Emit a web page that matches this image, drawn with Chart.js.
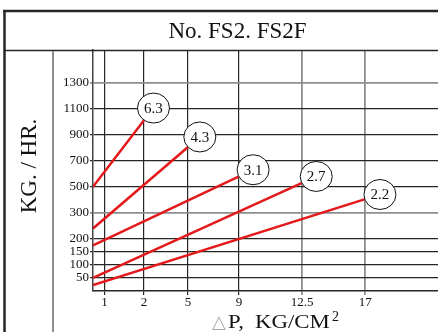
<!DOCTYPE html>
<html>
<head>
<meta charset="utf-8">
<script src="https://cdn.jsdelivr.net/npm/chart.js@4.4.1/dist/chart.umd.min.js"></script>
<style>
  body { margin: 0; background: #fff; }
  canvas { display: block; }
</style>
</head>
<body>
<canvas id="flowChart" width="438" height="332"></canvas>
<script>
// orifice sizes written in the circles
var orifices = ["6.3", "4.3", "3.1", "2.7", "2.2"];
// pressure drop at each end of a line (kg/cm2)
var dpStart = [0, 0, 0, 0, 0];
var dpEnd = [2, 5, 9, 12.5, 17];
// flow at each end of a line (kg/hr)
var flowStart = [500, 240, 175, 50, 23];
var flowEnd = [1010, 805, 580, 530, 405];

var xTicks = [1, 2, 5, 9, 12.5, 17];
var yTicks = [50, 100, 150, 200, 300, 500, 700, 900, 1100, 1300];

// the paper grid is not even, so each axis maps value -> grid step
var axisSteps = {
  x: { at: [0, 1, 2, 5, 9, 12.5, 17], step: [0, 11.5, 51, 95, 146, 209, 272] },
  y: { at: [0, 50, 100, 150, 200, 300, 500, 700, 900, 1100, 1300], step: [0, 1, 2, 3, 4, 6, 8, 10, 12, 14, 16] }
};

class PiecewiseScale extends Chart.LinearScale {
  toStep(v) {
    var t = axisSteps[this.axis], at = t.at, st = t.step, n = at.length;
    var i = 1;
    while (i < n - 1 && v > at[i]) i++;
    return st[i - 1] + (v - at[i - 1]) * (st[i] - st[i - 1]) / (at[i] - at[i - 1]);
  }
  fromStep(s) {
    var t = axisSteps[this.axis], at = t.at, st = t.step, n = at.length;
    var i = 1;
    while (i < n - 1 && s > st[i]) i++;
    return at[i - 1] + (s - st[i - 1]) * (at[i] - at[i - 1]) / (st[i] - st[i - 1]);
  }
  getPixelForValue(value) {
    if (value === null || value === undefined || isNaN(value)) return NaN;
    var lo = this.toStep(this.min), hi = this.toStep(this.max);
    return this.getPixelForDecimal((this.toStep(value) - lo) / (hi - lo));
  }
  getValueForPixel(pixel) {
    var lo = this.toStep(this.min), hi = this.toStep(this.max);
    return this.fromStep(lo + this.getDecimalForPixel(pixel) * (hi - lo));
  }
}
PiecewiseScale.id = 'piecewise';
PiecewiseScale.defaults = Chart.LinearScale.defaults;
Chart.register(PiecewiseScale);

var serif = '"Liberation Serif", "Times New Roman", serif';
var dark = '#262626';
var gray = '#8e8e8e';

var datasets = orifices.map(function (name, i) {
  return {
    label: name,
    data: [{ x: dpStart[i], y: flowStart[i] }, { x: dpEnd[i], y: flowEnd[i] }],
    borderColor: '#e3191c',
    borderWidth: 2.5,
    pointRadius: 0,
    fill: false
  };
});

var frame = {
  id: 'frame',
  beforeDraw: function (chart) {
    var ctx = chart.ctx;
    ctx.save();
    ctx.fillStyle = '#fff';
    ctx.fillRect(0, 0, chart.width, chart.height);
    ctx.restore();
  },
  afterDraw: function (chart) {
    var ctx = chart.ctx;
    ctx.save();
    // table lines
    ctx.strokeStyle = dark;
    ctx.lineWidth = 2.5;
    ctx.beginPath();
    ctx.moveTo(3, 11); ctx.lineTo(438, 11);
    ctx.moveTo(4.5, 10); ctx.lineTo(4.5, 332);
    ctx.stroke();
    ctx.lineWidth = 1.5;
    ctx.beginPath();
    ctx.moveTo(4, 50.5); ctx.lineTo(438, 50.5);
    ctx.stroke();
    ctx.strokeStyle = gray;
    ctx.lineWidth = 2;
    ctx.beginPath();
    ctx.moveTo(53, 51); ctx.lineTo(53, 332);
    ctx.stroke();

    // title
    ctx.fillStyle = '#111';
    ctx.font = '23px ' + serif;
    ctx.textAlign = 'center';
    ctx.textBaseline = 'alphabetic';
    ctx.fillText('No. FS2. FS2F', 237.5, 37.5);

    // y title
    ctx.save();
    ctx.translate(36, 166);
    ctx.rotate(-Math.PI / 2);
    ctx.fillText('KG. / HR.', 0, 0);
    ctx.restore();

    // x title
    ctx.textAlign = 'left';
    ctx.fillStyle = '#a8a8a8';
    ctx.font = '18px "DejaVu Sans"';
    ctx.fillText('\u25B3', 212, 327.5);
    ctx.fillStyle = '#111';
    ctx.font = '19px ' + serif;
    ctx.save();
    ctx.translate(228, 327.5);
    ctx.scale(1.2, 1);
    ctx.fillText('P,', 0, 0);
    ctx.restore();
    ctx.save();
    ctx.translate(255, 327.5);
    ctx.scale(1.2, 1);
    ctx.fillText('KG/CM', 0, 0);
    ctx.restore();
    ctx.font = '14px ' + serif;
    ctx.fillText('2', 332, 321);
    ctx.restore();
  }
};

var bubbles = {
  id: 'bubbles',
  afterDatasetsDraw: function (chart) {
    var ctx = chart.ctx;
    chart.data.datasets.forEach(function (ds, i) {
      var pts = chart.getDatasetMeta(i).data;
      var a = pts[pts.length - 2], b = pts[pts.length - 1];
      var dx = b.x - a.x, dy = b.y - a.y, len = Math.hypot(dx, dy);
      var cx = b.x + dx / len * 15.5, cy = b.y + dy / len * 15.5;
      ctx.save();
      ctx.beginPath();
      ctx.ellipse(cx, cy, 16, 15, 0, 0, 2 * Math.PI);
      ctx.fillStyle = '#fff';
      ctx.fill();
      ctx.lineWidth = 1;
      ctx.strokeStyle = '#111';
      ctx.stroke();
      ctx.fillStyle = '#111';
      ctx.font = '15px ' + serif;
      ctx.textAlign = 'center';
      ctx.textBaseline = 'middle';
      ctx.fillText(ds.label, cx, cy + 1);
      ctx.restore();
    });
  }
};

var tickFont = { family: serif, size: 13 };

new Chart(document.getElementById('flowChart').getContext('2d'), {
  type: 'line',
  data: { datasets: datasets },
  options: {
    responsive: false,
    animation: false,
    devicePixelRatio: 1,
    layout: { padding: { top: 50, left: 0, right: 0, bottom: 0 } },
    plugins: { legend: { display: false }, tooltip: { enabled: false }, title: { display: false } },
    scales: {
      x: {
        type: 'piecewise',
        min: 0,
        max: 22.2,
        bounds: 'data',
        afterBuildTicks: function (s) { s.ticks = xTicks.map(function (v) { return { value: v }; }); },
        afterFit: function (s) { s.height = 41; },
        grid: {
          color: function (c) { return c.tick && c.tick.value >= 12.5 ? gray : dark; },
          lineWidth: function (c) { return c.tick && c.tick.value >= 12.5 ? 1.8 : 1.2; },
          tickLength: 4
        },
        border: { display: true, color: dark, width: 1.5 },
        ticks: {
          autoSkip: false,
          maxRotation: 0,
          padding: 0,
          color: '#111',
          font: tickFont,
          callback: function (v) { return String(v); }
        }
      },
      y: {
        type: 'piecewise',
        min: 0,
        max: 1550,
        bounds: 'data',
        afterBuildTicks: function (s) { s.ticks = yTicks.map(function (v) { return { value: v }; }); },
        afterFit: function (s) { s.width = 93; },
        grid: {
          color: function (c) { return c.tick && (c.tick.value === 300 || c.tick.value === 1300) ? gray : dark; },
          lineWidth: function (c) { return c.tick && (c.tick.value === 300 || c.tick.value === 1300) ? 1.8 : 1.2; },
          tickLength: 3
        },
        border: { display: true, color: '#444', width: 1.5 },
        ticks: {
          autoSkip: false,
          padding: 1,
          color: '#111',
          font: tickFont,
          callback: function (v) { return String(v); }
        }
      }
    }
  },
  plugins: [frame, bubbles]
});
</script>
</body>
</html>
